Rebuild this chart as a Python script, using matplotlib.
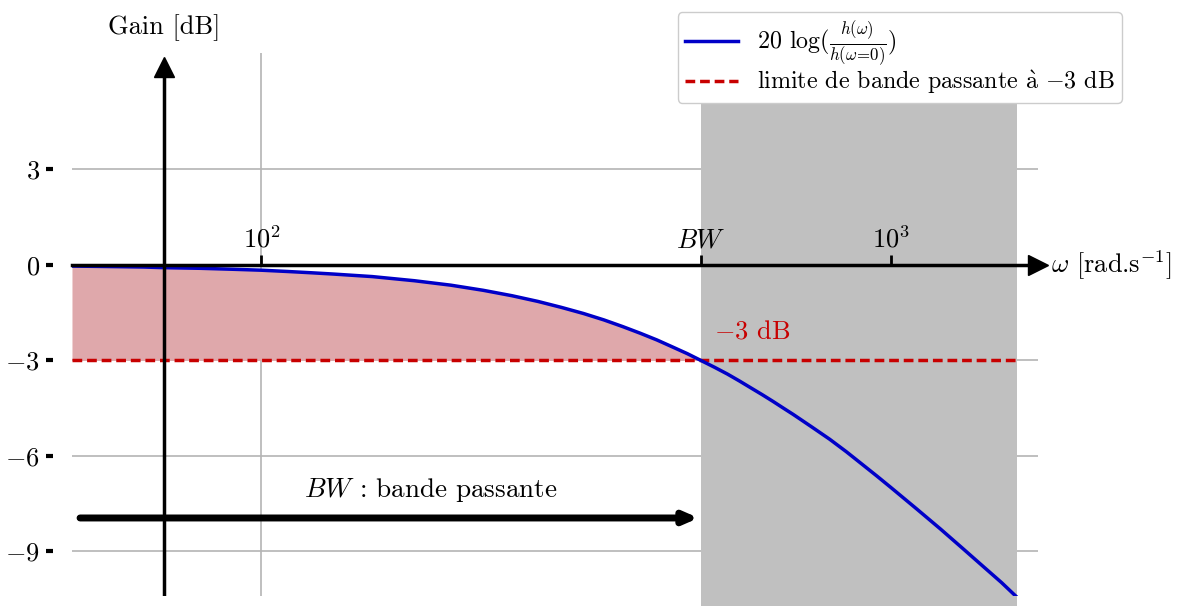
import numpy as np
import matplotlib
matplotlib.use("Agg")
import matplotlib.pyplot as plt

# gain curve (rad/s, dB)
omega = [50, 55, 60, 65, 70, 80, 90, 100, 110, 120, 130, 150, 175, 200, 225,
         250, 275, 300, 325, 350, 375, 400, 425, 450, 475, 500, 525, 550, 575,
         600, 625, 650, 675, 700, 750, 800, 850, 900, 950, 1000, 1100, 1200,
         1300, 1400, 1500, 1585]
gain = [-0.04, -0.05, -0.06, -0.07, -0.09, -0.11, -0.14, -0.17, -0.21, -0.25,
        -0.29, -0.37, -0.50, -0.64, -0.80, -0.97, -1.15, -1.34, -1.53, -1.73,
        -1.94, -2.15, -2.36, -2.58, -2.79, -3.01, -3.22, -3.43, -3.65, -3.87,
        -4.08, -4.29, -4.50, -4.70, -5.10, -5.48, -5.87, -6.26, -6.63, -6.99,
        -7.67, -8.30, -8.90, -9.46, -9.98, -10.43]
bw = 500
cutoff_db = -3
y_ticks = [-9, -6, -3, 0, 3]
x_ticks = [100, bw, 1000]
x_ticklabels = [r"$10^2$", r"$BW$", r"$10^3$"]

plt.rcParams['font.family'] = ['cmr10', 'DejaVu Serif']
plt.rcParams['mathtext.fontset'] = 'cm'
plt.rcParams['axes.unicode_minus'] = False

fig = plt.figure(figsize=(11.78, 6.06), dpi=100)
ax = fig.add_axes([0.0611, 0.0165, 0.8201, 0.896])
ax.set_xscale('log')
ax.set_xlim(50, 1714)
ax.set_ylim(-10.4, 6.65)

# grid
for yt in y_ticks:
    ax.axhline(yt, color='#b4b4b4', lw=1.2, zorder=0)
for xt in [100, 1000]:
    ax.axvline(xt, color='#b4b4b4', lw=1.2, zorder=0)

# rejected band (grey)
ax.fill_between([bw, omega[-1]], -12, 6.65, color='#c0c0c0', lw=0,
                zorder=0.5, clip_on=False)

# pass band shading
om = np.array(omega)
g = np.array(gain)
mask = om <= bw
ax.fill_between(om[mask], g[mask], cutoff_db, color='#dfa8ab', lw=0, zorder=1)

ax.plot(omega, gain, color='#0000c8', lw=2.5, zorder=4,
        label=r"20 $\log(\frac{h(\omega)}{h(\omega\!=\!0)})$")
ax.plot([omega[0], omega[-1]], [cutoff_db, cutoff_db], color='#c80000', lw=2.5,
        ls=(0, (2.8, 1.4)), zorder=3,
        label=r"limite de bande passante $\mathrm{\grave{a}}$ $-3$ dB")

# vertical gain axis
ax.plot([70, 70], [-10.4, 6.1], color='k', lw=2.5, zorder=5)
ax.plot(70, 6.2, marker='^', color='k', ms=14, zorder=5, clip_on=False)
ax.text(70, 7.45, "Gain [dB]", ha='center', va='center', fontsize=19)

# horizontal omega axis (top spine moved to 0)
for s in ['left', 'right', 'bottom']:
    ax.spines[s].set_visible(False)
ax.spines['top'].set_position(('data', 0))
ax.spines['top'].set_linewidth(2.5)
ax.spines['top'].set_zorder(5)
ax.xaxis.set_ticks_position('top')
ax.set_xticks(x_ticks)
ax.set_xticklabels(x_ticklabels)
ax.xaxis.set_minor_locator(matplotlib.ticker.NullLocator())
ax.tick_params(axis='x', direction='out', length=7, width=2, pad=2,
               labelsize=19)
ax.plot(1, 0, marker='>', color='k', ms=15, transform=ax.get_yaxis_transform(),
        clip_on=False, zorder=6)
ax.text(1.013, 0, r"$\omega$ [rad.s$^{-1}$]", transform=ax.get_yaxis_transform(),
        ha='left', va='center', fontsize=19)

# y ticks on the left
ax.spines['left'].set_position(('outward', 14))
ax.set_yticks(y_ticks)
ax.set_yticklabels([r"$%d$" % v for v in y_ticks])
ax.tick_params(axis='y', direction='out', length=5, width=3, pad=4,
               labelsize=19)

# annotations
ax.text(523, -2.1, r"$-3$ dB", color='#c80000', fontsize=19, ha='left',
        va='center')
ax.annotate("", xy=(bw * 0.99, -7.95), xytext=(51.5, -7.95),
            arrowprops=dict(arrowstyle='-|>,head_length=0.8,head_width=0.35',
                            color='k', lw=5, shrinkA=0, shrinkB=0), zorder=6)
ax.text(186, -7.07, r"$BW$ : bande passante", fontsize=19.5, ha='center',
        va='center')

ax.legend(loc='upper right', bbox_to_anchor=(0.9525, 0.980),
          bbox_transform=fig.transFigure, fontsize=17.3, framealpha=1,
          handlelength=2.2, borderpad=0.3, labelspacing=0.0,
          borderaxespad=0)

fig.savefig("out.png", dpi=100)
